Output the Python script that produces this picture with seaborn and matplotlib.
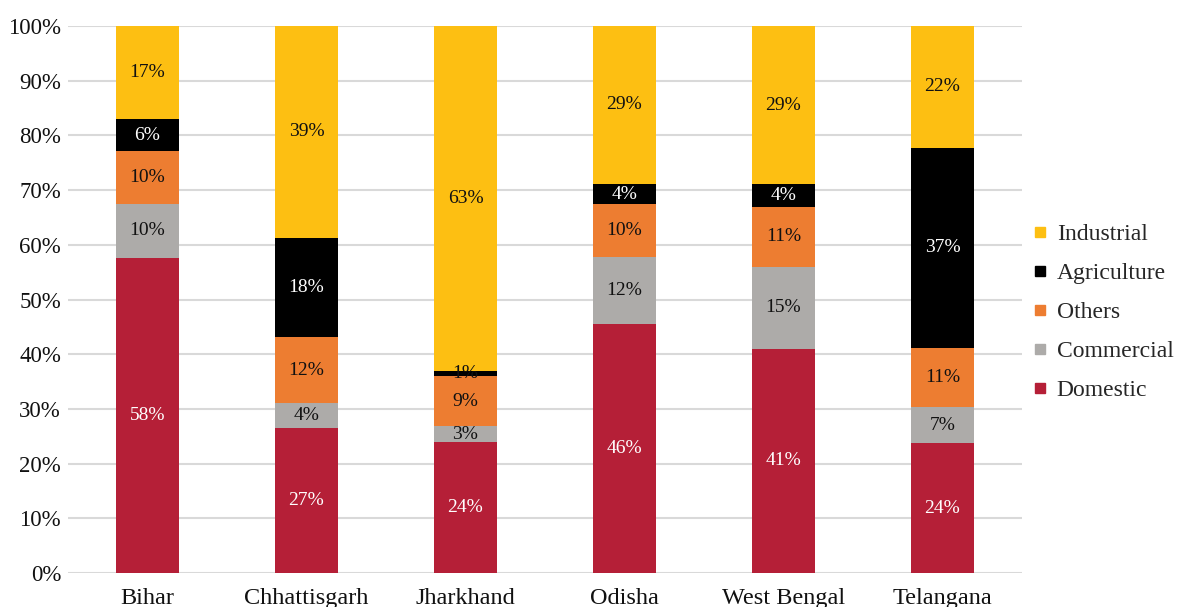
import matplotlib
matplotlib.use("Agg")
import matplotlib.pyplot as plt
from matplotlib.lines import Line2D
from matplotlib.ticker import PercentFormatter
import numpy as np
import pandas as pd
import seaborn as sns

# Share of electricity consumption by consumer category (%)
states = ["Bihar", "Chhattisgarh", "Jharkhand", "Odisha", "West Bengal", "Telangana"]
domestic = [57.6, 26.6, 23.9, 45.6, 41.0, 23.7]
commercial = [9.9, 4.4, 3.0, 12.1, 15.0, 6.6]
others = [9.6, 12.2, 9.1, 9.7, 11.0, 10.9]
agriculture = [5.9, 18.1, 0.9, 3.8, 4.1, 36.6]
industrial = [17.0, 38.7, 63.1, 28.8, 28.9, 22.2]

categories = ["Domestic", "Commercial", "Others", "Agriculture", "Industrial"]
colors = {
    "Domestic": "#B51F37",
    "Commercial": "#ADABA9",
    "Others": "#ED7D31",
    "Agriculture": "#000000",
    "Industrial": "#FDBF12",
}
text_colors = {
    "Domestic": "white",
    "Commercial": "#111111",
    "Others": "#111111",
    "Agriculture": "white",
    "Industrial": "#111111",
}

df = pd.DataFrame({
    "State": states,
    "Domestic": domestic,
    "Commercial": commercial,
    "Others": others,
    "Agriculture": agriculture,
    "Industrial": industrial,
})
cum = df[categories].cumsum(axis=1)
base = cum - df[categories]

sns.set_theme(style="white")
plt.rcParams["font.family"] = ["Liberation Serif", "DejaVu Serif"]

fig = plt.figure(figsize=(11.8, 6.07), dpi=100)
ax = fig.add_axes([0.0576, 0.056, 0.8085, 0.901])

# Draw stacked bars top-down so each lower segment overlays the cumulative one
for cat in reversed(categories):
    sns.barplot(x=df["State"], y=cum[cat], color=colors[cat], width=0.4,
                saturation=1, ax=ax, zorder=3, edgecolor="none")

# Segment value labels (thin slivers get dark text)
for i, st in enumerate(states):
    for cat in categories:
        v = df.loc[i, cat]
        mid = base.loc[i, cat] + v / 2
        tc = text_colors[cat] if v >= 2 else "#111111"
        ax.text(i, mid, f"{v:.0f}%", ha="center", va="center",
                fontsize=14, color=tc, zorder=5)

ax.set_ylim(0, 100)
ax.set_xlim(-0.5, len(states) - 0.5)
ax.yaxis.set_major_locator(plt.MultipleLocator(10))
ax.yaxis.set_major_formatter(PercentFormatter(decimals=0))
ax.grid(axis="y", color="#D9D9D9", linewidth=1.5, zorder=0)
ax.set_axisbelow(True)
for s in ax.spines.values():
    s.set_visible(False)
ax.tick_params(axis="y", length=0, pad=5, labelsize=16.5, colors="#111111")
ax.tick_params(axis="x", length=0, pad=11, labelsize=17.5, colors="#111111")
ax.set_xlabel("")
ax.set_ylabel("")

handles = [Line2D([0], [0], marker="s", linestyle="none", markersize=7.5,
                  markerfacecolor=colors[c], markeredgecolor=colors[c])
           for c in reversed(categories)]
ax.legend(handles, list(reversed(categories)), loc="center left",
          bbox_to_anchor=(1.0005, 0.477), frameon=False, fontsize=17,
          handlelength=0.7, handletextpad=0.35, labelspacing=0.74,
          borderaxespad=0)

fig.savefig("out.png", dpi=100)
